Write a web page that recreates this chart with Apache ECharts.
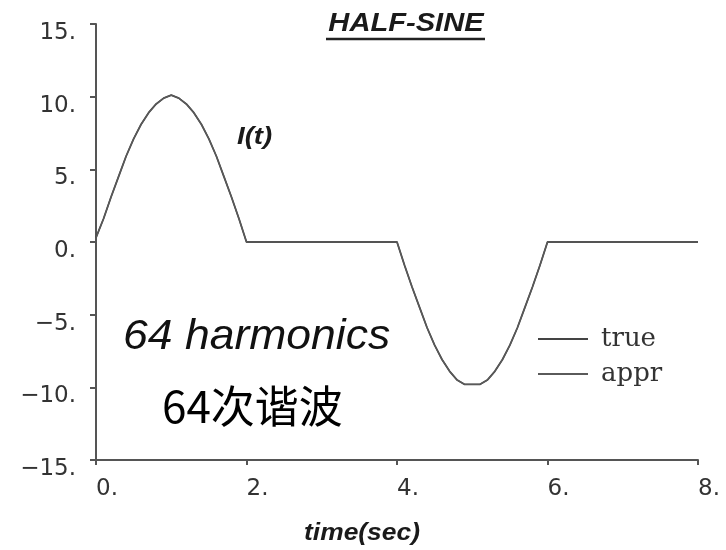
<!DOCTYPE html>
<html>
<head>
<meta charset="utf-8">
<script src="https://cdn.jsdelivr.net/npm/echarts@6/dist/echarts.min.js"></script>
<style>html,body{margin:0;padding:0;background:#fff;}#main{width:726px;height:550px;}</style>
</head>
<body>
<div id="main"></div>
<script>
// time samples (sec)
const timeValues = [
  0.0,0.1,0.2,0.3,0.4,0.5,0.6,0.7,0.8,0.9,
  1.0,1.1,1.2,1.3,1.4,1.5,1.6,1.7,1.8,1.9,
  2.0,2.1,2.2,2.3,2.4,2.5,2.6,2.7,2.8,2.9,
  3.0,3.1,3.2,3.3,3.4,3.5,3.6,3.7,3.8,3.9,
  4.0,4.1,4.2,4.3,4.4,4.5,4.6,4.7,4.8,4.9,
  5.0,5.1,5.2,5.3,5.4,5.5,5.6,5.7,5.8,5.9,
  6.0,6.1,6.2,6.3,6.4,6.5,6.6,6.7,6.8,6.9,
  7.0,7.1,7.2,7.3,7.4,7.5,7.6,7.7,7.8,7.9,
  8.0
];
// true half-sine signal I(t)
const trueValues = [
  0.3,1.6,3.1,4.5,5.9,7.1,8.1,8.9,9.5,9.9,
  10.1,9.9,9.5,8.9,8.1,7.1,5.9,4.5,3.1,1.6,
  0,0,0,0,0,0,0,0,0,0,
  0,0,0,0,0,0,0,0,0,0,
  0,-1.6,-3.1,-4.5,-5.9,-7.1,-8.1,-8.9,-9.5,-9.8,
  -9.8,-9.8,-9.5,-8.9,-8.1,-7.1,-5.9,-4.5,-3.1,-1.6,
  0,0,0,0,0,0,0,0,0,0,
  0,0,0,0,0,0,0,0,0,0,
  0
];
// 64-harmonic approximation (indistinguishable from true in the plot)
const apprValues = [
  0.3,1.6,3.1,4.5,5.9,7.1,8.1,8.9,9.5,9.9,
  10.1,9.9,9.5,8.9,8.1,7.1,5.9,4.5,3.1,1.6,
  0,0,0,0,0,0,0,0,0,0,
  0,0,0,0,0,0,0,0,0,0,
  0,-1.6,-3.1,-4.5,-5.9,-7.1,-8.1,-8.9,-9.5,-9.8,
  -9.8,-9.8,-9.5,-8.9,-8.1,-7.1,-5.9,-4.5,-3.1,-1.6,
  0,0,0,0,0,0,0,0,0,0,
  0,0,0,0,0,0,0,0,0,0,
  0
];
const seriesNames = ['true', 'appr'];
const xTicks = [0, 2, 4, 6, 8];
const yTicks = [-15, -10, -5, 0, 5, 10, 15];

const pair = (xs, ys) => xs.map((x, i) => [x, ys[i]]);
const fmt = v => (v < 0 ? '\u2212' + Math.abs(v) : String(v)) + '.';

const chart = echarts.init(document.getElementById('main'), null, {renderer: 'canvas'});
chart.setOption({
  backgroundColor: '#ffffff',
  animation: false,
  grid: {left: 96, right: 28, top: 24, bottom: 90, containLabel: false},
  legend: {
    data: seriesNames,
    orient: 'vertical',
    left: 538, top: 322,
    padding: 0,
    itemWidth: 50, itemHeight: 2, itemGap: 1,
    icon: 'rect',
    selectedMode: false,
    textStyle: {
      fontFamily: 'DejaVu Serif', fontSize: 26, color: '#333',
      lineHeight: 20, padding: [14, 0, 0, 8]
    }
  },
  xAxis: {
    type: 'value', min: 0, max: 8, interval: 2,
    axisLine: {show: true, onZero: false, lineStyle: {color: '#555', width: 2}},
    axisTick: {show: true, length: 5, lineStyle: {color: '#555', width: 2}},
    splitLine: {show: false},
    axisLabel: {
      formatter: fmt, align: 'left', margin: 18,
      fontFamily: 'DejaVu Sans', fontSize: 23, color: '#333'
    }
  },
  yAxis: {
    type: 'value', min: -15, max: 15, interval: 5,
    axisLine: {show: true, onZero: false, lineStyle: {color: '#555', width: 2}},
    axisTick: {show: true, length: 6, lineStyle: {color: '#555', width: 2}},
    splitLine: {show: false},
    axisLabel: {
      formatter: fmt, margin: 20,
      fontFamily: 'DejaVu Sans', fontSize: 23, color: '#333',
      verticalAlign: 'top', lineHeight: 18
    }
  },
  series: [
    {
      name: seriesNames[0], type: 'line', data: pair(timeValues, trueValues),
      showSymbol: false, symbol: 'none',
      lineStyle: {color: '#444', width: 1.8}, itemStyle: {color: '#444'}
    },
    {
      name: seriesNames[1], type: 'line', data: pair(timeValues, apprValues),
      showSymbol: false, symbol: 'none',
      lineStyle: {color: '#5a5a5a', width: 1.3}, itemStyle: {color: '#5a5a5a'}
    }
  ],
  graphic: [
    {type: 'text', x: 406, y: 24, scaleX: 1.12,
      style: {text: 'HALF-SINE', font: 'italic bold 26px "Liberation Sans"', fill: '#1a1a1a',
        textAlign: 'center', textVerticalAlign: 'middle'}},
    {type: 'line', shape: {x1: 326, y1: 39, x2: 485, y2: 39},
      style: {stroke: '#222', lineWidth: 2.5}},
    {type: 'text', x: 237, y: 137, scaleX: 1.15,
      style: {text: 'I(t)', font: 'italic bold 24px "Liberation Sans"', fill: '#1a1a1a',
        textAlign: 'left', textVerticalAlign: 'middle'}},
    {type: 'text', x: 123, y: 337, scaleX: 1.06,
      style: {text: '64 harmonics', font: 'italic 42px "Liberation Sans"', fill: '#111',
        textAlign: 'left', textVerticalAlign: 'middle'}},
    {type: 'text', x: 162, y: 406,
      style: {text: '64次谐波', font: '44px "Noto Sans CJK SC"', fill: '#000',
        textAlign: 'left', textVerticalAlign: 'middle'}},
    {type: 'text', x: 362, y: 533, scaleX: 1.1,
      style: {text: 'time(sec)', font: 'italic bold 24px "Liberation Sans"', fill: '#1a1a1a',
        textAlign: 'center', textVerticalAlign: 'middle'}}
  ]
});
</script>
</body>
</html>
